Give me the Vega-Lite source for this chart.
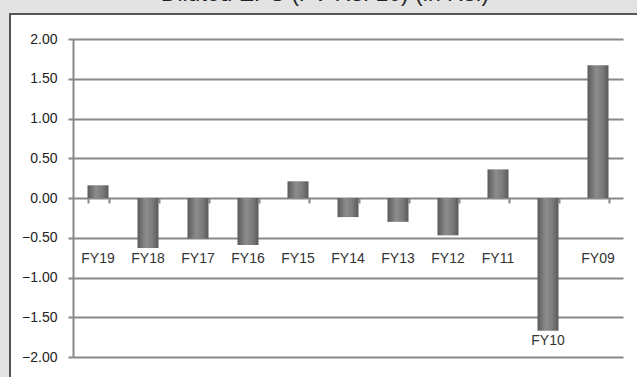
{
  "$schema": "https://vega.github.io/schema/vega-lite/v6.json",
  "width": 630,
  "height": 366,
  "autosize": {"type": "none"},
  "padding": {"left": 10, "top": 14, "right": 0, "bottom": 0},
  "background": "#e3e3e3",
  "config": {
    "view": {"fill": "white", "stroke": "#555555", "strokeWidth": 2},
    "font": "Liberation Sans"
  },
  "title": {
    "text": "Diluted EPS (FV Rs. 10) (in Rs.)",
    "fontSize": 23,
    "fontWeight": "normal",
    "color": "#222222",
    "baseline": "bottom",
    "offset": 5,
    "dy": 20,
    "anchor": "middle"
  },
  "data": {
    "values": [
      {"year": "FY19", "value": 0.16},
      {"year": "FY18", "value": -0.63},
      {"year": "FY17", "value": -0.51},
      {"year": "FY16", "value": -0.59},
      {"year": "FY15", "value": 0.21},
      {"year": "FY14", "value": -0.24},
      {"year": "FY13", "value": -0.30},
      {"year": "FY12", "value": -0.47},
      {"year": "FY11", "value": 0.36},
      {"year": "FY10", "value": -1.67},
      {"year": "FY09", "value": 1.67}
    ]
  },
  "encoding": {
    "x": {
      "field": "year",
      "type": "nominal",
      "sort": null,
      "scale": {"range": [63, 613], "paddingInner": 0.58, "paddingOuter": 0.29},
      "axis": {
        "title": null,
        "labels": false,
        "domain": false,
        "offset": -182,
        "tickBand": "extent",
        "ticks": true,
        "tickSize": 5,
        "tickColor": "#888888",
        "tickWidth": 2,
        "grid": false
      }
    }
  },
  "layer": [
    {
      "mark": {
        "type": "bar",
        "color": {
          "x1": 0, "y1": 0, "x2": 1, "y2": 0,
          "gradient": "linear",
          "stops": [
            {"offset": 0, "color": "#5a5a5a"},
            {"offset": 0.4, "color": "#8c8c8c"},
            {"offset": 0.7, "color": "#7c7c7c"},
            {"offset": 1, "color": "#5a5a5a"}
          ]
        }
      },
      "encoding": {
        "y": {
          "field": "value",
          "type": "quantitative",
          "scale": {"domain": [-2, 2], "range": [343, 25], "nice": false, "zero": true},
          "axis": {
            "title": null,
            "values": [-2, -1.5, -1, -0.5, 0, 0.5, 1, 1.5, 2],
            "format": ".2f",
            "offset": -63,
            "domain": true,
            "domainColor": "#888888",
            "domainWidth": 2,
            "ticks": true,
            "tickSize": 5,
            "tickColor": "#888888",
            "tickWidth": 2,
            "grid": true,
            "gridColor": "#888888",
            "gridWidth": 2,
            "labelPadding": 11,
            "labelFontSize": 14,
            "labelColor": "#222222"
          }
        }
      }
    },
    {
      "transform": [{"filter": "datum.year != 'FY10'"}],
      "mark": {"type": "text", "fontSize": 14, "color": "#333333", "baseline": "middle"},
      "encoding": {
        "y": {"datum": -0.77, "type": "quantitative"},
        "text": {"field": "year"}
      }
    },
    {
      "transform": [{"filter": "datum.year == 'FY10'"}],
      "mark": {"type": "text", "fontSize": 14, "color": "#333333", "baseline": "middle", "dy": 10},
      "encoding": {
        "y": {"field": "value", "type": "quantitative"},
        "text": {"field": "year"}
      }
    }
  ]
}
